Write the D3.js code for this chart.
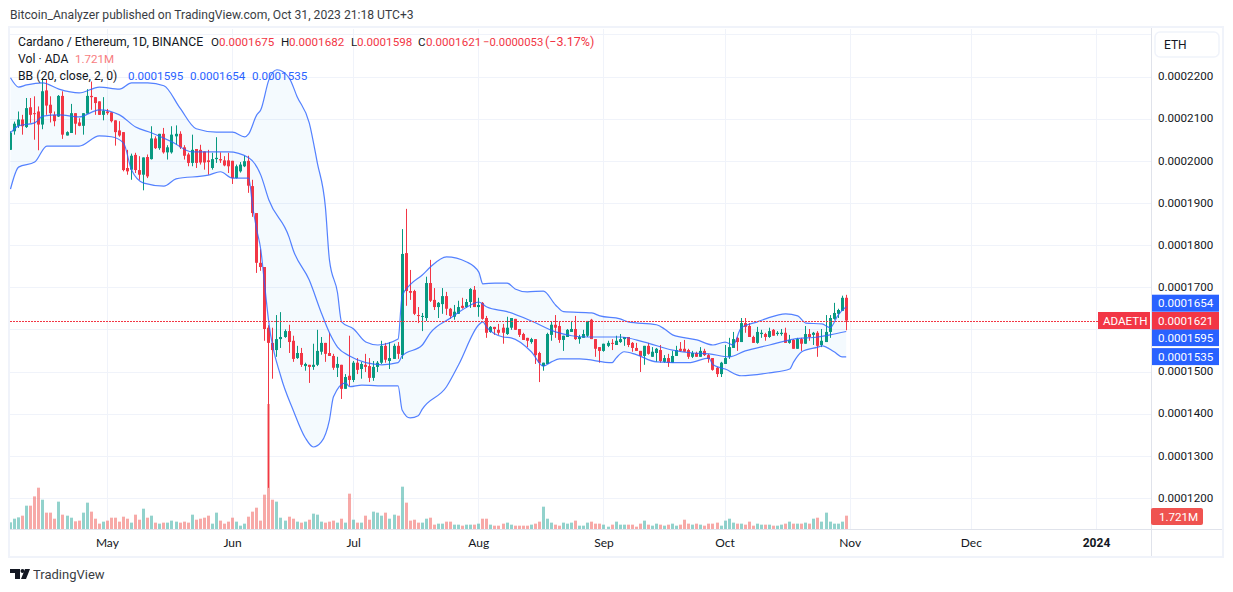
<!DOCTYPE html>
<html>
<head>
<meta charset="utf-8">
<script src="https://cdn.jsdelivr.net/npm/d3@7"></script>
<style>
html, body { margin: 0; padding: 0; background: #fff; }
text { font-family: Roboto, sans-serif; }
</style>
</head>
<body>
<div id="chart"></div>
<script>
// prices are in units of 0.0000001 ETH, one candle per day from 2023-04-07
const firstDay = new Date(Date.UTC(2023, 3, 7))

const opens = [
  2026,2070,2083,2098,2080,2127,2113,2117,2086,2167,
  2133,2109,2105,2154,2060,2066,2113,2091,2083,2112,
  2154,2151,2141,2109,2117,2115,2096,2072,2068,1983,
  1979,2014,1978,1967,2009,2004,2053,2030,2064,2020,
  2020,2058,2064,2032,2015,1995,2028,2026,2022,2001,
  1983,2004,2004,2001,2001,2000,1959,1975,1987,2000,
  1940,1876,1758,1748,1604,1568,1551,1577,1582,1596,
  1573,1532,1544,1513,1516,1511,1516,1547,1568,1544,
  1537,1509,1516,1459,1490,1480,1521,1506,1516,1513,
  1485,1511,1521,1561,1525,1530,1561,1539,1781,1691,
  1691,1634,1630,1627,1710,1670,1653,1660,1679,1649,
  1630,1637,1656,1653,1665,1694,1653,1663,1627,1594,
  1606,1599,1604,1589,1604,1625,1601,1589,1580,1570,
  1577,1544,1513,1518,1587,1611,1608,1575,1582,1594,
  1601,1577,1580,1585,1623,1577,1558,1549,1561,1568,
  1563,1570,1577,1582,1568,1556,1549,1537,1561,1535,
  1544,1551,1523,1532,1521,1537,1554,1554,1551,1535,
  1544,1535,1549,1539,1532,1509,1494,1518,1535,1556,
  1580,1570,1615,1608,1582,1568,1589,1589,1582,1599,
  1589,1589,1592,1568,1575,1554,1577,1566,1589,1587,
  1592,1563,1570,1594,1625,1637,1644,1675
]
const highs = [
  2070,2093,2117,2109,2149,2149,2153,2129,2196,2192,
  2153,2117,2156,2165,2070,2135,2113,2101,2113,2170,
  2188,2151,2141,2151,2123,2115,2096,2094,2068,2026,
  2017,2019,2011,2008,2015,2082,2058,2064,2078,2037,
  2082,2084,2070,2037,2019,2062,2028,2038,2022,2026,
  2019,2056,2020,2011,2019,2000,1991,1997,2012,2012,
  1955,1876,1790,1748,1610,1604,1634,1641,1600,1611,
  1585,1561,1556,1521,1516,1566,1599,1582,1568,1592,
  1542,1535,1516,1494,1585,1525,1532,1523,1542,1532,
  1525,1525,1573,1568,1570,1566,1570,1838,1886,1741,
  1694,1653,1639,1725,1765,1698,1665,1698,1689,1651,
  1658,1668,1675,1672,1698,1703,1675,1665,1632,1608,
  1606,1613,1613,1630,1627,1625,1601,1592,1580,1580,
  1577,1547,1521,1592,1618,1634,1618,1585,1601,1620,
  1632,1587,1599,1620,1625,1577,1558,1566,1573,1577,
  1585,1589,1582,1582,1570,1568,1549,1561,1568,1558,
  1556,1563,1539,1542,1549,1561,1570,1575,1554,1549,
  1547,1558,1554,1542,1532,1511,1523,1563,1580,1594,
  1582,1627,1627,1615,1585,1606,1599,1592,1604,1601,
  1596,1601,1604,1587,1577,1580,1580,1608,1601,1594,
  1596,1601,1634,1634,1663,1649,1680,1682
]
const lows = [
  2026,2062,2078,2062,2078,2090,2050,2025,2075,2109,
  2091,2082,2104,2052,2060,2066,2062,2082,2062,2112,
  2121,2109,2109,2096,2109,2091,2036,2057,1975,1967,
  1955,1971,1955,1930,1959,2003,2028,2026,2017,2003,
  2017,2038,2028,2003,1987,1987,1983,1991,1979,1967,
  1979,1995,1995,1987,1971,1945,1958,1972,1985,1924,
  1867,1734,1739,1573,1224,1483,1535,1556,1580,1544,
  1523,1530,1511,1502,1473,1504,1513,1540,1523,1537,
  1504,1487,1435,1459,1466,1475,1494,1483,1499,1475,
  1478,1499,1518,1521,1506,1530,1530,1530,1656,1670,
  1634,1615,1596,1620,1665,1646,1627,1637,1634,1625,
  1623,1637,1649,1651,1651,1653,1630,1623,1580,1592,
  1587,1587,1566,1587,1599,1599,1582,1575,1558,1566,
  1518,1475,1502,1518,1573,1580,1568,1549,1582,1594,
  1575,1566,1580,1582,1577,1535,1521,1547,1558,1551,
  1563,1568,1561,1558,1547,1549,1499,1516,1540,1535,
  1523,1521,1521,1511,1521,1537,1547,1547,1530,1532,
  1535,1535,1537,1521,1502,1487,1487,1518,1530,1556,
  1549,1570,1592,1582,1568,1566,1580,1573,1580,1585,
  1585,1585,1568,1566,1554,1554,1549,1566,1573,1563,
  1535,1558,1570,1580,1623,1627,1644,1598
]
const closes = [
  2066,2088,2098,2082,2125,2109,2112,2086,2165,2131,
  2113,2094,2154,2062,2068,2113,2088,2083,2113,2154,
  2151,2137,2109,2119,2113,2094,2068,2060,1978,1975,
  2012,1978,1967,2008,1963,2053,2030,2064,2020,2032,
  2062,2064,2032,2012,1995,2026,1995,1996,1996,1997,
  2004,2007,2001,1989,1987,1959,1987,1991,1999,1941,
  1876,1758,1748,1601,1568,1551,1577,1582,1596,1570,
  1530,1544,1516,1518,1511,1516,1549,1568,1542,1537,
  1509,1518,1459,1487,1480,1521,1504,1518,1511,1485,
  1511,1521,1561,1528,1532,1561,1542,1779,1691,1687,
  1637,1632,1632,1710,1668,1653,1663,1679,1649,1632,
  1642,1653,1651,1665,1696,1653,1658,1625,1592,1606,
  1601,1592,1592,1604,1627,1599,1587,1575,1573,1577,
  1539,1521,1521,1589,1611,1604,1575,1585,1599,1601,
  1577,1582,1589,1620,1577,1554,1549,1566,1568,1566,
  1573,1577,1582,1563,1556,1549,1537,1561,1542,1547,
  1554,1525,1532,1521,1537,1551,1549,1547,1535,1544,
  1535,1549,1539,1530,1504,1494,1521,1532,1558,1577,
  1570,1615,1606,1582,1568,1594,1592,1582,1596,1585,
  1592,1592,1568,1575,1554,1577,1566,1589,1582,1592,
  1561,1573,1594,1627,1639,1646,1675,1621
]
// volume in millions of ADA
const volumes = [
  .86,1.33,1.50,1.72,3.01,3.01,4.21,5.33,3.78,2.11,
  2.11,1.33,3.53,1.85,1.72,1.46,.99,1.08,2.11,3.40,
  2.24,1.33,.69,.95,1.08,1.46,1.46,.95,1.59,1.33,
  .82,1.85,1.20,2.62,1.46,1.72,.82,.69,.82,.82,
  1.08,.95,.82,.95,.82,1.85,1.20,1.33,1.46,1.72,
  .69,2.11,1.08,.69,.95,1.46,.95,.43,.69,1.59,
  2.24,2.75,1.08,4.43,16.13,3.78,3.53,1.46,1.08,1.59,
  1.33,.95,.82,.95,1.20,1.98,1.85,.95,.82,.95,
  1.08,.82,1.33,.82,4.56,1.20,.82,.82,1.72,1.20,
  2.24,2.11,1.72,2.11,1.33,1.85,1.72,5.46,3.40,1.08,
  1.20,.82,.82,1.33,1.46,.56,.69,.69,.95,.95,
  .56,.56,.43,.56,.56,.56,.69,1.33,1.33,.56,
  .43,.43,.69,.82,.56,.43,.43,.43,.43,.56,
  .69,.95,2.88,1.33,.82,.56,.43,.82,.69,.82,
  1.08,.43,.43,.82,.95,.69,.69,.56,.30,.56,
  .95,.56,.56,.56,.56,.30,.69,1.08,.56,.43,
  .69,.56,.43,.56,.69,.43,.56,1.20,.69,.56,
  .69,.56,.43,.69,.69,.82,.43,1.08,1.33,.82,
  .69,.69,.56,.95,.43,.69,.56,.56,.56,.43,
  .43,.56,.69,.95,.69,.69,.69,.82,.69,1.33,
  1.46,.95,2.11,.95,.69,.69,.95,1.721
]

const upperDays = [0,2,4,8,12,17,22,27,30,34,38,42,46,51,55,58,59,61,62,64,66,69,71,74,76,78,79,81,82,85,88,91,96,97,99,102,104,108,113,116,117,120,123,125,128,132,135,137,144,146,151,153,160,162,164,170,174,177,179,181,185,187,192,195,197,201,203,205,207]
const upperBand = [2197,2175,2180,2185,2170,2161,2175,2170,2185,2185,2178,2125,2076,2068,2068,2057,2064,2109,2121,2192,2216,2197,2152,2090,1995,1890,1765,1687,1618,1601,1570,1563,1577,1679,1706,1729,1748,1772,1760,1736,1708,1710,1710,1696,1689,1691,1658,1642,1639,1632,1625,1618,1611,1601,1587,1575,1563,1570,1563,1604,1618,1625,1637,1632,1615,1613,1604,1634,1654]
const basisDays = [0,2,6,8,12,17,22,27,31,35,40,45,51,54,59,62,64,69,70,74,77,79,81,84,88,92,96,97,102,104,109,114,116,118,123,129,135,139,143,151,157,164,169,173,178,182,188,194,200,203,207]
const basisBand = [2066,2083,2090,2106,2109,2104,2121,2109,2080,2066,2045,2021,2021,2021,2007,1966,1907,1819,1789,1717,1639,1592,1558,1537,1521,1516,1521,1537,1563,1592,1627,1658,1665,1653,1642,1620,1594,1585,1582,1582,1570,1551,1544,1542,1535,1549,1563,1577,1582,1587,1595]
const lowerDays = [0,2,6,9,17,22,25,28,30,33,38,41,49,52,55,59,60,61,62,63,64,67,70,73,75,77,79,80,83,84,87,91,96,97,99,101,102,108,111,116,117,118,122,124,129,132,134,136,141,149,150,152,155,160,168,173,174,177,181,188,193,194,196,200,201,204,206,207]
const lowerBand = [1933,1985,1997,2035,2035,2059,2057,2042,1978,1947,1940,1957,1966,1974,1959,1959,1890,1836,1789,1701,1615,1487,1409,1343,1321,1333,1385,1440,1473,1464,1468,1466,1466,1409,1390,1395,1411,1464,1516,1611,1618,1604,1582,1580,1547,1513,1523,1530,1530,1521,1532,1547,1540,1523,1521,1532,1516,1506,1490,1497,1506,1523,1547,1558,1561,1547,1535,1535]

// 2300 and 1600 keep their grid lines but their labels sit under the button and the price tags
const priceTicks = [2300,2200,2100,2000,1900,1800,1700,1600,1500,1400,1300,1200]
const hiddenPriceLabels = [2300,1600]
const monthTicks = [
  [new Date(Date.UTC(2023, 4, 1)), 'May'],
  [new Date(Date.UTC(2023, 5, 1)), 'Jun'],
  [new Date(Date.UTC(2023, 6, 1)), 'Jul'],
  [new Date(Date.UTC(2023, 7, 1)), 'Aug'],
  [new Date(Date.UTC(2023, 8, 1)), 'Sep'],
  [new Date(Date.UTC(2023, 9, 1)), 'Oct'],
  [new Date(Date.UTC(2023, 10, 1)), 'Nov'],
  [new Date(Date.UTC(2023, 11, 1)), 'Dec'],
  [new Date(Date.UTC(2024, 0, 1)), '2024']
]

const upColor = '#089981'
const downColor = '#f23645'
const bandColor = '#2962ff'
const gridColor = '#f0f3fa'
const lineColor = '#e0e3eb'
const textColor = '#131722'

const width = 1233
const height = 592
const paneLeft = 10, paneRight = 1151, paneTop = 29, paneBottom = 529
const labelFont = 11.6

const dayDate = i => new Date(firstDay.getTime() + i * 86400000)
const x = d3.scaleUtc().domain([firstDay, monthTicks[8][0]]).range([10, 1096])
const xDay = i => Math.round(x(dayDate(i)))
const y = d3.scaleLinear().domain([1200, 2200]).range([498, 76.5])
const yVol = d3.scaleLinear().domain([0, 5.33]).range([529, 487.7])
const fmt = v => (v / 1e7).toFixed(7)

const svg = d3.select('#chart').append('svg')
  .attr('width', width).attr('height', height)
  .style('display', 'block')

svg.append('defs').append('clipPath').attr('id', 'pane')
  .append('rect').attr('x', paneLeft).attr('y', paneTop)
  .attr('width', paneRight - paneLeft).attr('height', paneBottom - paneTop)

// header
svg.append('text').attr('x', 10).attr('y', 18.5)
  .attr('font-size', 12.15).attr('fill', textColor).attr('opacity', 0.85)
  .text('Bitcoin_Analyzer published on TradingView.com, Oct 31, 2023 21:18 UTC+3')

// frame
svg.append('rect').attr('x', 9).attr('y', 27).attr('width', 1214).attr('height', 530)
  .attr('fill', 'none').attr('stroke', gridColor).attr('stroke-width', 2)

// grid
const grid = svg.append('g').attr('clip-path', 'url(#pane)')
grid.selectAll('line.h').data(priceTicks).enter().append('line')
  .attr('x1', paneLeft).attr('x2', paneRight)
  .attr('y1', d => Math.round(y(d)) + 0.5).attr('y2', d => Math.round(y(d)) + 0.5)
  .attr('stroke', gridColor)
grid.selectAll('line.v').data(monthTicks).enter().append('line')
  .attr('x1', d => Math.round(x(d[0])) + 0.5).attr('x2', d => Math.round(x(d[0])) + 0.5)
  .attr('y1', paneTop).attr('y2', paneBottom)
  .attr('stroke', gridColor)

const pane = svg.append('g').attr('clip-path', 'url(#pane)')

// volume
pane.selectAll('rect.vol').data(volumes).enter().append('rect')
  .attr('x', (d, i) => xDay(i) - 1)
  .attr('y', d => yVol(d))
  .attr('width', 3)
  .attr('height', d => yVol(0) - yVol(d))
  .attr('fill', (d, i) => closes[i] >= opens[i] ? '#26a69a' : '#ef5350')
  .attr('opacity', 0.5)

// band fill
const upperPts = upperDays.map((d, i) => [d, upperBand[i]])
const lowerPts = lowerDays.map((d, i) => [d, lowerBand[i]])
const basisPts = basisDays.map((d, i) => [d, basisBand[i]])
const bandLine = d3.line().x(d => x(dayDate(d[0])) + 0.5).y(d => y(d[1])).curve(d3.curveMonotoneX)

pane.append('path')
  .attr('d', bandLine(upperPts) + 'L' + bandLine(lowerPts.slice().reverse()).slice(1) + 'Z')
  .attr('fill', '#2196f3').attr('opacity', 0.05)

// candles
const days = d3.range(opens.length)
pane.selectAll('line.wick').data(days).enter().append('line')
  .attr('x1', i => xDay(i) + 0.5).attr('x2', i => xDay(i) + 0.5)
  .attr('y1', i => y(highs[i])).attr('y2', i => y(lows[i]))
  .attr('stroke', i => closes[i] >= opens[i] ? upColor : downColor)
pane.selectAll('rect.body').data(days).enter().append('rect')
  .attr('x', i => xDay(i) - 1)
  .attr('y', i => y(Math.max(opens[i], closes[i])))
  .attr('width', 3)
  .attr('height', i => Math.max(1, Math.abs(y(opens[i]) - y(closes[i]))))
  .attr('fill', i => closes[i] >= opens[i] ? upColor : downColor)

// band lines
;[upperPts, basisPts, lowerPts].forEach(pts => {
  pane.append('path').attr('d', bandLine(pts))
    .attr('fill', 'none').attr('stroke', bandColor).attr('stroke-width', 1.2).attr('opacity', 0.8)
})

// last price line
const lastClose = closes[closes.length - 1]
svg.append('line')
  .attr('x1', paneLeft).attr('x2', 1098)
  .attr('y1', Math.round(y(lastClose)) + 0.5).attr('y2', Math.round(y(lastClose)) + 0.5)
  .attr('stroke', downColor).attr('stroke-dasharray', '2,1')

// axis lines
svg.append('line').attr('x1', 10).attr('x2', 1222).attr('y1', 529.5).attr('y2', 529.5).attr('stroke', lineColor)
svg.append('line').attr('x1', 1151.5).attr('x2', 1151.5).attr('y1', 28).attr('y2', 556).attr('stroke', lineColor)

// axes
const yAxis = d3.axisRight(y).tickValues(priceTicks.filter(d => !hiddenPriceLabels.includes(d)))
  .tickSize(0).tickPadding(0).tickFormat(fmt)
const gy = svg.append('g').attr('transform', 'translate(1158,-0.5)').call(yAxis)
gy.select('.domain').remove()
gy.selectAll('text').attr('font-size', labelFont).attr('fill', textColor).style('font-family', 'Roboto, sans-serif')

const monthLabels = new Map(monthTicks.map(d => [d[0].getTime(), d[1]]))
const xAxis = d3.axisBottom(x).tickValues(monthTicks.map(d => d[0])).tickSize(0).tickPadding(0)
  .tickFormat(d => monthLabels.get(d.getTime()))
const gx = svg.append('g').attr('transform', 'translate(0,538)').call(xAxis)
gx.select('.domain').remove()
gx.selectAll('text').attr('font-size', 12).attr('fill', textColor).style('font-family', 'Lato, sans-serif')
gx.selectAll('text').filter(d => d.getTime() === monthTicks[8][0].getTime())
  .attr('font-weight', 'bold').style('font-family', 'Roboto, sans-serif')

// ETH button
svg.append('rect').attr('x', 1155).attr('y', 32).attr('width', 64).attr('height', 25).attr('rx', 5)
  .attr('fill', '#fff').attr('stroke', gridColor).attr('stroke-width', 1.5)
svg.append('text').attr('x', 1164).attr('y', 49).attr('font-size', 12).attr('fill', textColor).text('ETH')

// price labels on the axis
const blueLabels = [upperBand[upperBand.length - 1], basisBand[basisBand.length - 1], lowerBand[lowerBand.length - 1]]
const labelY = [303.2, 337.6, 356.6]
blueLabels.forEach((v, i) => {
  svg.append('rect').attr('x', 1152).attr('y', labelY[i] - 8.5).attr('width', 67).attr('height', 17).attr('fill', bandColor)
  svg.append('text').attr('x', 1158).attr('y', labelY[i] + 4.2).attr('font-size', labelFont).attr('fill', '#fff').text(fmt(v))
})
svg.append('rect').attr('x', 1152).attr('y', 312).attr('width', 67).attr('height', 17.5).attr('fill', downColor)
svg.append('text').attr('x', 1158).attr('y', 325).attr('font-size', labelFont).attr('fill', '#fff').text(fmt(lastClose))
svg.append('rect').attr('x', 1098).attr('y', 312).attr('width', 52).attr('height', 17).attr('fill', downColor)
svg.append('text').attr('x', 1103).attr('y', 325).attr('font-size', labelFont).attr('fill', '#fff').text('ADAETH')

// volume label
svg.append('rect').attr('x', 1151).attr('y', 508).attr('width', 52).attr('height', 17).attr('rx', 2).attr('fill', '#ef5350')
svg.append('text').attr('x', 1159).attr('y', 521).attr('font-size', labelFont).attr('fill', '#fff').text('1.721M')

// legend
const legend = svg.append('g').attr('font-size', labelFont)
const legendText = (px, py, str, color, size) => legend.append('text').attr('x', px).attr('y', py)
  .attr('fill', color).attr('font-size', size || labelFont).text(str)
legendText(18, 46, 'Cardano / Ethereum, 1D, BINANCE', textColor, 12.2)
legendText(211, 46, 'O', textColor)
legendText(219, 46, fmt(opens[207]), downColor)
legendText(281, 46, 'H', textColor)
legendText(289, 46, fmt(highs[207]), downColor)
legendText(351, 46, 'L', textColor)
legendText(357, 46, fmt(lows[207]), downColor)
legendText(418, 46, 'C', textColor)
legendText(426, 46, fmt(closes[207]), downColor)
legendText(483, 46, '−0.0000053', downColor, 11.3)
legendText(545, 46, '(−3.17%)', downColor, 12.5)
legendText(18, 63, 'Vol · ADA', textColor, 12.2)
legendText(75, 63, '1.721M', '#f77c80')
legendText(18, 80, 'BB (20, close, 2, 0)', textColor, 12.2)
legendText(128, 80, fmt(basisBand[basisBand.length - 1]), bandColor)
legendText(190, 80, fmt(upperBand[upperBand.length - 1]), bandColor)
legendText(252, 80, fmt(lowerBand[lowerBand.length - 1]), bandColor)

// footer logo and name
svg.append('path')
  .attr('d', 'M10 569h10v10h-5v-6h-5z M21 579l4-10h5l-4 10z')
  .attr('fill', textColor)
svg.append('circle').attr('cx', 22.5).attr('cy', 571).attr('r', 2).attr('fill', textColor)
svg.append('text').attr('x', 33).attr('y', 579).attr('font-size', 13).attr('fill', textColor).attr('opacity', 0.85).text('TradingView')
</script>
</body>
</html>
